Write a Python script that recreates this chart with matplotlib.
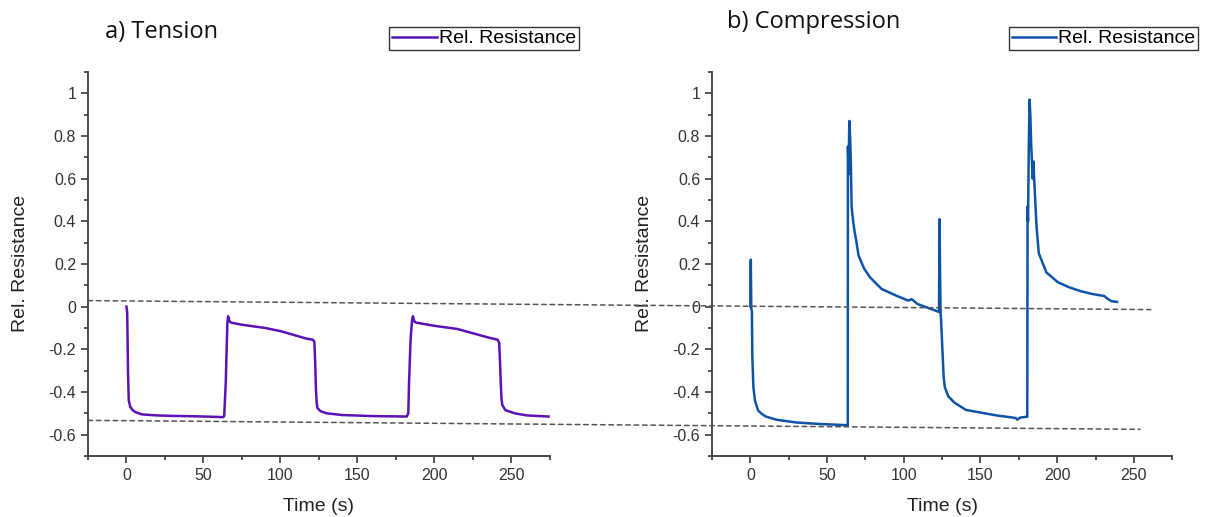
"""
plot.py

Relative resistance of the sensor under cyclic tension and compression
"""

import matplotlib

matplotlib.use("Agg")
import matplotlib.pyplot as plt
from matplotlib.patches import ConnectionPatch
from matplotlib.ticker import MultipleLocator

# a) tension
tension_t = [0, 0.5, 1, 1.5, 2.5, 4, 6, 10, 20, 30, 45, 55, 63, 63.5, 64.5,
             65.5, 66, 67, 68, 75, 80, 90, 100, 105, 112, 117, 121, 122,
             122.5, 123, 123.5, 124, 126, 130, 140, 160, 182, 183, 183.5,
             184.5, 185.5, 186, 187, 188, 200, 215, 225, 235, 241, 242,
             242.5, 243, 243.5, 244, 246, 252, 260, 274]
tension_r = [0.0, -0.03, -0.3, -0.44, -0.47, -0.485, -0.495, -0.505, -0.51,
             -0.512, -0.514, -0.516, -0.518, -0.51, -0.35, -0.08, -0.045,
             -0.07, -0.075, -0.085, -0.09, -0.1, -0.115, -0.125, -0.14,
             -0.15, -0.155, -0.165, -0.25, -0.38, -0.45, -0.475, -0.49,
             -0.5, -0.508, -0.513, -0.515, -0.5, -0.35, -0.15, -0.06, -0.045,
             -0.07, -0.075, -0.09, -0.105, -0.125, -0.145, -0.155, -0.17,
             -0.25, -0.35, -0.43, -0.46, -0.485, -0.5, -0.51, -0.515]

# b) compression
comp_t = [0, 0.3, 0.6, 1.0, 1.3, 1.6, 2.0, 3, 5, 7, 10, 17, 30, 45, 55, 63.5,
          63.6, 64.0, 64.5, 65.0, 65.5, 66, 67, 68, 69, 70.5, 74, 78, 85.5,
          95.5, 103, 105, 106, 109, 115.5, 123, 123.3, 123.6, 124, 124.3,
          125.5, 126, 126.75, 129, 133, 140.5, 150.5, 160.5, 168, 173, 174,
          176, 178, 180.5, 180.7, 181, 181.5, 182, 182.5, 183, 184, 184.5,
          185, 186.5, 188, 193, 200.5, 208, 215.5, 223, 230.5, 233, 235.5,
          239]
comp_r = [0.0, 0.22, -0.01, -0.02, -0.24, -0.3, -0.38, -0.44, -0.486, -0.5,
          -0.515, -0.53, -0.543, -0.55, -0.553, -0.556, 0.75, 0.62, 0.87,
          0.8, 0.68, 0.47, 0.4, 0.35, 0.31, 0.24, 0.18, 0.137, 0.083, 0.05,
          0.028, 0.035, 0.03, 0.012, -0.005, -0.025, 0.41, 0.2, -0.03,
          -0.06, -0.25, -0.33, -0.377, -0.42, -0.45, -0.484, -0.497, -0.51,
          -0.517, -0.522, -0.53, -0.52, -0.518, -0.516, 0.47, 0.4, 0.75,
          0.97, 0.9, 0.77, 0.6, 0.68, 0.6, 0.38, 0.25, 0.16, 0.114, 0.09,
          0.072, 0.059, 0.05, 0.036, 0.025, 0.022]

# dashed guide lines: (x, y) start on panel a, end on panel b
upper_guide = [(-25, 0.028), (261, -0.014)]
lower_guide = [(-25, -0.533), (254, -0.575)]

TICK_FONT = "Liberation Sans"
TITLE_FONT = "Open Sans"


def style_axis(ax):
    ax.set_xlim(-25, 275)
    ax.set_ylim(-0.7, 1.1)
    ax.xaxis.set_major_locator(MultipleLocator(50))
    ax.xaxis.set_minor_locator(MultipleLocator(25))
    ax.yaxis.set_major_locator(MultipleLocator(0.2))
    ax.yaxis.set_minor_locator(MultipleLocator(0.1))
    ax.yaxis.set_major_formatter(lambda v, pos: f"{v:g}" if abs(v) > 1e-9 else "0")
    for side in ("top", "right"):
        ax.spines[side].set_visible(False)
    for side in ("left", "bottom"):
        ax.spines[side].set_linewidth(1.3)
        ax.spines[side].set_color("#3a3a3a")
    ax.tick_params(which="major", direction="out", length=5, width=1.2,
                   color="#3a3a3a", labelsize=11.5, labelcolor="#333333")
    ax.tick_params(which="minor", direction="out", length=3, width=1.2,
                   color="#3a3a3a")
    for lab in ax.get_xticklabels() + ax.get_yticklabels():
        lab.set_fontfamily(TICK_FONT)
    ax.set_xlabel("Time (s)", fontsize=14, fontfamily=TICK_FONT, color="#222222")
    ax.set_ylabel("Rel. Resistance", fontsize=14, fontfamily=TICK_FONT,
                  color="#222222")
    ax.xaxis.set_label_coords(0.5, -0.11)
    ax.yaxis.set_label_coords(-0.128, 0.5)


def add_legend(ax, xanchor):
    leg = ax.legend(loc="upper right", bbox_to_anchor=(xanchor, 1.117),
                    prop={"family": TICK_FONT, "size": 14},
                    frameon=True, fancybox=False, borderpad=0.15,
                    handlelength=2.3, handletextpad=0.1, borderaxespad=0)
    leg.get_frame().set_edgecolor("black")
    leg.get_frame().set_linewidth(1.0)


def main():
    fig = plt.figure(figsize=(12.08, 5.17), dpi=100)
    ax1 = fig.add_axes([0.0728, 0.118, 0.3825, 0.743])
    ax2 = fig.add_axes([0.5894, 0.118, 0.381, 0.743])

    ax1.plot(tension_t, tension_r, color="#5c12b6", lw=1.8,
             label="Rel. Resistance")
    ax2.plot(comp_t, comp_r, color="#0d54a8", lw=1.8,
             label="Rel. Resistance")

    style_axis(ax1)
    style_axis(ax2)
    add_legend(ax1, 1.063)
    add_legend(ax2, 1.057)

    for guide in (upper_guide, lower_guide):
        con = ConnectionPatch(xyA=guide[0], coordsA=ax1.transData,
                              xyB=guide[1], coordsB=ax2.transData,
                              linestyle=(0, (3, 2.5)), color="#555555",
                              lw=1.1, zorder=5)
        fig.add_artist(con)

    fig.text(0.087, 0.938, "a) Tension", fontsize=17, fontfamily=TITLE_FONT,
             va="center", ha="left", color="#111111")
    fig.text(0.602, 0.957, "b) Compression", fontsize=17,
             fontfamily=TITLE_FONT, va="center", ha="left", color="#111111")

    fig.savefig("out.png", dpi=100)


if __name__ == "__main__":
    main()
